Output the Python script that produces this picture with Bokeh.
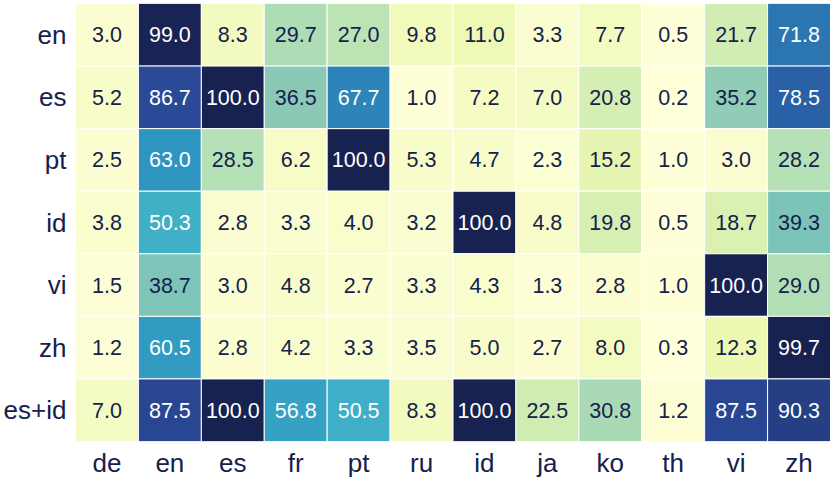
import numpy as np
from bokeh.plotting import figure
from bokeh.models import LinearColorMapper, ColumnDataSource, FactorRange
from bokeh.transform import transform
from bokeh.core.properties import value
from bokeh.embed import file_html
from bokeh.resources import INLINE

cols = ["de", "en", "es", "fr", "pt", "ru", "id", "ja", "ko", "th", "vi", "zh"]
rows = ["en", "es", "pt", "id", "vi", "zh", "es+id"]

v_en = [3.0, 99.0, 8.3, 29.7, 27.0, 9.8, 11.0, 3.3, 7.7, 0.5, 21.7, 71.8]
v_es = [5.2, 86.7, 100.0, 36.5, 67.7, 1.0, 7.2, 7.0, 20.8, 0.2, 35.2, 78.5]
v_pt = [2.5, 63.0, 28.5, 6.2, 100.0, 5.3, 4.7, 2.3, 15.2, 1.0, 3.0, 28.2]
v_id = [3.8, 50.3, 2.8, 3.3, 4.0, 3.2, 100.0, 4.8, 19.8, 0.5, 18.7, 39.3]
v_vi = [1.5, 38.7, 3.0, 4.8, 2.7, 3.3, 4.3, 1.3, 2.8, 1.0, 100.0, 29.0]
v_zh = [1.2, 60.5, 2.8, 4.2, 3.3, 3.5, 5.0, 2.7, 8.0, 0.3, 12.3, 99.7]
v_esid = [7.0, 87.5, 100.0, 56.8, 50.5, 8.3, 100.0, 22.5, 30.8, 1.2, 87.5, 90.3]

values = [v_en, v_es, v_pt, v_id, v_vi, v_zh, v_esid]

# YlGnBu-like anchors, interpolated to a smooth palette
anchors = ["#ffffd9", "#edf8b1", "#c7e9b4", "#86c6b6", "#3fb0c6",
           "#2e97c1", "#2a6aab", "#2a4795", "#172250"]
def hex2rgb(h):
    return np.array([int(h[i:i + 2], 16) for i in (1, 3, 5)], dtype=float)
arr = np.array([hex2rgb(h) for h in anchors])
t = np.linspace(0, 1, len(anchors))
tt = np.linspace(0, 1, 256)
pal = []
for x in tt:
    rgb = [np.interp(x, t, arr[:, k]) for k in range(3)]
    pal.append("#%02x%02x%02x" % tuple(int(round(c)) for c in rgb))

xs, ys, vs, labels, tcol = [], [], [], [], []
for r, rowvals in zip(rows, values):
    for c, v in zip(cols, rowvals):
        xs.append(c)
        ys.append(r)
        vs.append(v)
        labels.append("%.1f" % v)
        tcol.append("#ffffff" if v > 45 else "#14214d")

src = ColumnDataSource(dict(x=xs, y=ys, v=vs, label=labels, tcol=tcol))
mapper = LinearColorMapper(palette=pal, low=0, high=100)

p = figure(width=830, height=480, x_range=FactorRange(*cols),
           y_range=FactorRange(*list(reversed(rows))),
           output_backend="svg", toolbar_location=None,
           min_border_left=0, min_border_right=0, min_border_top=3,
           min_border_bottom=0)
p.rect(x="x", y="y", width=1, height=1, source=src,
       fill_color=transform("v", mapper), line_color="white", line_width=1)
p.text(x="x", y="y", text="label", source=src, text_color="tcol",
       text_align="center", text_baseline="middle",
       text_font=value("Liberation Sans"), text_font_size="21.5px")

p.outline_line_color = None
p.grid.visible = False
for ax in (p.xaxis[0], p.yaxis[0]):
    ax.axis_line_color = None
    ax.major_tick_line_color = None
    ax.minor_tick_line_color = None
    ax.major_tick_out = 0
    ax.major_tick_in = 0
    ax.major_label_text_font = "Liberation Sans"
    ax.major_label_text_font_size = "26px"
    ax.major_label_text_color = "#14214d"
p.xaxis[0].major_label_standoff = 6
p.yaxis[0].major_label_standoff = 9
p.background_fill_color = "white"
p.border_fill_color = "white"

open("out.html", "w").write(file_html(p, INLINE))
